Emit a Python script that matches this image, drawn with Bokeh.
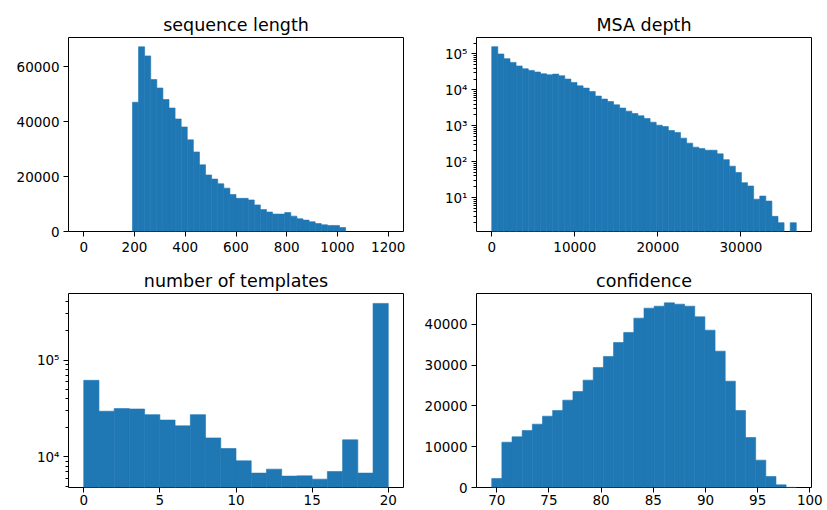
import numpy as np
from bokeh.plotting import figure
from bokeh.layouts import column, row
from bokeh.models import FixedTicker, CustomJSTickFormatter, Range1d
from bokeh.embed import file_html
from bokeh.resources import INLINE

# ---------------- data ----------------
# sequence length: 50 bins over 0..1200
seq_edges = np.linspace(0, 1200, 51)
seq_counts = [0, 0, 0, 0, 0, 0, 0, 0,
              47100, 67300, 64000, 55400, 52300, 48100, 45000, 41000, 38100, 33400,
              29000, 24300, 20600, 19100, 17400, 15800, 13500, 12100, 12100, 11500,
              9700, 8000, 7100, 6350, 6350, 6900, 5600, 4650, 4150, 3550,
              2900, 2450, 2200, 2200, 1450,
              0, 0, 0, 0, 0, 0, 0]
seq_xticks = [0, 200, 400, 600, 800, 1000, 1200]
seq_yticks = [0, 20000, 40000, 60000]

# MSA depth: 50 bins over 0..36660 (log counts)
msa_edges = np.linspace(0, 36660, 51)
msa_counts = [160000, 100000, 74000, 58300, 46300, 38900, 34900, 31500, 28200, 26400,
              27500, 24800, 20000, 16100, 13000, 11200, 9040, 6730, 5550, 4750,
              3850, 3110, 2560, 2200, 1900, 1600, 1260, 1040, 955, 738,
              649, 453, 328, 254, 232, 209, 209, 165, 114, 75,
              50, 26, 21, 9, 11, 8, 3, 2, 0, 2]
msa_xticks = [0, 10000, 20000, 30000]
msa_yticks = [10, 100, 1000, 10000, 100000]

# number of templates: 20 bins over 0..20 (log counts)
tmpl_edges = np.arange(0, 21)
tmpl_counts = [61700, 29600, 31500, 31200, 27300, 24000, 20900, 27300, 15700, 12200,
               9100, 6800, 7470, 6330, 6370, 5890, 7060, 15000, 6800, 384000]
tmpl_xticks = [0, 5, 10, 15, 20]
tmpl_yticks = [10000, 100000]

# confidence: 30 bins over 69.52..98.70
conf_edges = np.linspace(69.52, 98.70, 31)
conf_counts = [2210, 11120, 12430, 13990, 15540, 17500, 18900, 21430, 23560, 26340,
               29450, 32150, 35580, 38040, 41550, 44000, 44490, 45300, 44980, 44490,
               41870, 38600, 33450, 26090, 18900, 12270, 6710, 2700, 650, 40]
conf_xticks = [70, 75, 80, 85, 90, 95, 100]
conf_yticks = [0, 10000, 20000, 30000, 40000]

# ---------------- styling ----------------
BAR = "#1f77b4"
FONT = "DejaVu Sans"
TICK_SIZE = "13.5px"
TITLE_SIZE = "17.5px"

SUP = CustomJSTickFormatter(code="""
const s = {'0':'\u2070','1':'\u00b9','2':'\u00b2','3':'\u00b3','4':'\u2074',
           '5':'\u2075','6':'\u2076','7':'\u2077','8':'\u2078','9':'\u2079','-':'\u207b'};
const e = Math.round(Math.log10(tick));
return '10' + String(e).split('').map(c => s[c]).join('');
""")


def log_minor(lo_exp, hi_exp):
    return [m * 10.0 ** k for k in range(lo_exp, hi_exp + 1) for m in range(2, 10)]


def make_fig(title, edges, counts, xr, yr, xticks, yticks, log=False, minor=None,
             width=413, height=256, left=68, right=10, top=37, bottom=25,
             standoff_x=5, base=0):
    p = figure(width=width, height=height, output_backend="svg", toolbar_location=None,
               x_range=Range1d(*xr), y_range=Range1d(*yr),
               y_axis_type="log" if log else "linear",
               min_border_left=left, min_border_right=right,
               min_border_top=top, min_border_bottom=bottom,
               background_fill_color="white", border_fill_color="white")
    edges = np.asarray(edges, dtype=float)
    counts = np.asarray(counts, dtype=float)
    keep = counts > 0
    p.quad(left=edges[:-1][keep], right=edges[1:][keep], top=counts[keep],
           bottom=base, fill_color=BAR, line_color=BAR, line_width=0.6)
    p.grid.visible = False
    p.outline_line_color = "black"
    p.outline_line_width = 1
    p.title.text = title
    p.title.text_font = FONT
    p.title.text_font_size = TITLE_SIZE
    p.title.text_font_style = "normal"
    p.title.text_color = "black"
    p.title.align = "center"
    p.title.standoff = 5
    p.xaxis.ticker = FixedTicker(ticks=xticks)
    if log:
        p.yaxis.ticker = FixedTicker(ticks=yticks, minor_ticks=minor)
        p.yaxis.formatter = SUP
    else:
        p.yaxis.ticker = FixedTicker(ticks=yticks)
    for ax in (p.xaxis[0], p.yaxis[0]):
        ax.axis_line_color = None
        ax.major_tick_line_color = "black"
        ax.major_tick_out = 5
        ax.major_tick_in = 0
        ax.minor_tick_line_color = "black"
        ax.minor_tick_out = 3
        ax.minor_tick_in = 0
        ax.major_label_text_font = FONT
        ax.major_label_text_font_size = TICK_SIZE
        ax.major_label_text_color = "black"
    p.xaxis.major_label_standoff = standoff_x
    p.yaxis.major_label_standoff = 4
    return p


p1 = make_fig("sequence length", seq_edges, seq_counts, (-60, 1260), (0, 70700),
              seq_xticks, seq_yticks, width=413, left=68, right=10)
p2 = make_fig("MSA depth", msa_edges, msa_counts, (-1833, 38493), (1.135, 288000),
              msa_xticks, msa_yticks, log=True, minor=log_minor(0, 5),
              width=412, left=63, right=14, base=0.01)
p3 = make_fig("number of templates", tmpl_edges, tmpl_counts, (-1, 21), (4830, 486000),
              tmpl_xticks, tmpl_yticks, log=True, minor=log_minor(3, 5),
              width=413, height=253, left=68, right=10, top=36, bottom=22,
              standoff_x=2, base=1)
p4 = make_fig("confidence", conf_edges, conf_counts, (68.06, 100.16), (0, 47600),
              conf_xticks, conf_yticks, width=412, height=253, left=63, right=14,
              top=37, bottom=22, standoff_x=2)

p = column(row(p1, p2), row(p3, p4))

open("out.html", "w").write(file_html(p, INLINE))
